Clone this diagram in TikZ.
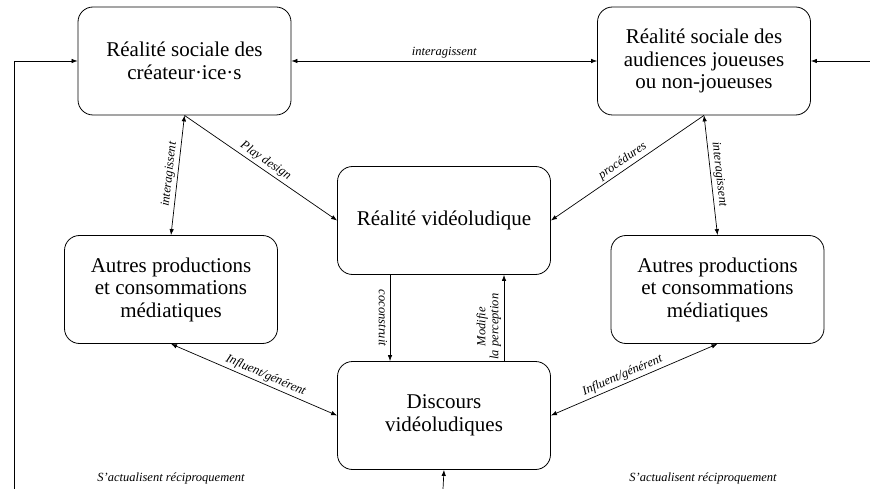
\documentclass[tikz,border=0pt]{standalone}
\usepackage{fontspec}
\setmainfont{Liberation Serif}
\usetikzlibrary{arrows.meta,positioning}

\begin{document}
\begin{tikzpicture}[
        x=1pt, y=-1pt,
        box/.style={rectangle, rounded corners=15pt, draw, line width=0.8pt, minimum width=213pt, minimum height=108pt, font=\fontsize{21}{22.5}\selectfont, align=center},
        arrow/.style={-{Latex[length=6pt,width=4.5pt]}, line width=0.7pt},
        biarrow/.style={{Latex[length=6pt,width=4.5pt]}-{Latex[length=6pt,width=4.5pt]}, line width=0.7pt},
        lbl/.style={font=\fontsize{12.5}{13}\selectfont\itshape, inner sep=2.5pt, align=center}
      ]
        \useasboundingbox (0,0) rectangle (870,489);

        % Six boxes
        \node[box] (createurs) at (184.5,61) {R\'ealit\'e sociale des\\cr\'eateur·ice·s};
        \node[box] (audiences) at (704,61) {R\'ealit\'e sociale des\\audiences joueuses\\ou non-joueuses};
        \node[box] (realite) at (444,220.5) {R\'ealit\'e vid\'eoludique};
        \node[box] (autresG) at (171,289.5) {Autres productions\\et consommations\\m\'ediatiques};
        \node[box] (autresD) at (717.5,289.5) {Autres productions\\et consommations\\m\'ediatiques};
        \node[box] (discours) at (444,415.5) {Discours\\vid\'eoludiques};

        % Loose ends (cut off at the border)
        \coordinate (bordG) at (14,489);
        \coordinate (coinG) at (14,61);
        \coordinate (bordD) at (870,61);
        \coordinate (bordB) at (443,489);

        % Arrows with labels
        \draw[biarrow] (createurs) -- node[lbl, above] {interagissent} (audiences);
        \draw[biarrow] (createurs.south) -- node[lbl, sloped, above] {interagissent} (autresG.north);
        \draw[biarrow] (audiences.south) -- node[lbl, sloped, above] {interagissent} (autresD.north);
        \draw[arrow] (createurs.south) -- node[lbl, sloped, above] {Play design} (realite.west);
        \draw[arrow] (audiences.south) -- node[lbl, sloped, above] {proc\'edures} (realite.east);
        \draw[arrow] ([xshift=-54pt]realite.south) -- node[lbl, rotate=-90, anchor=north] {coconstruit} ([xshift=-54pt]discours.north);
        \draw[arrow] ([xshift=60pt]discours.north) -- node[lbl, rotate=90, anchor=south, pos=0.4] {Modifie\\la perception} ([xshift=60pt]realite.south);
        \draw[biarrow] (autresG.south) -- node[lbl, sloped, above, pos=0.55] {Influent/g\'en\'erent} (discours.west);
        \draw[biarrow] (autresD.south) -- node[lbl, sloped, above, pos=0.55] {Influent/g\'en\'erent} (discours.east);
        \draw[arrow] (bordG) -- (coinG) -- (createurs.west);
        \draw[arrow] (bordD) -- (audiences.east);
        \draw[arrow] (bordB) -- (discours.south);

        % Bottom captions
        \node[lbl] (actuG) at (171,478) {S’actualisent r\'eciproquement};
        \node[lbl] (actuD) at (703,478) {S’actualisent r\'eciproquement};
      \end{tikzpicture}
\end{document}
